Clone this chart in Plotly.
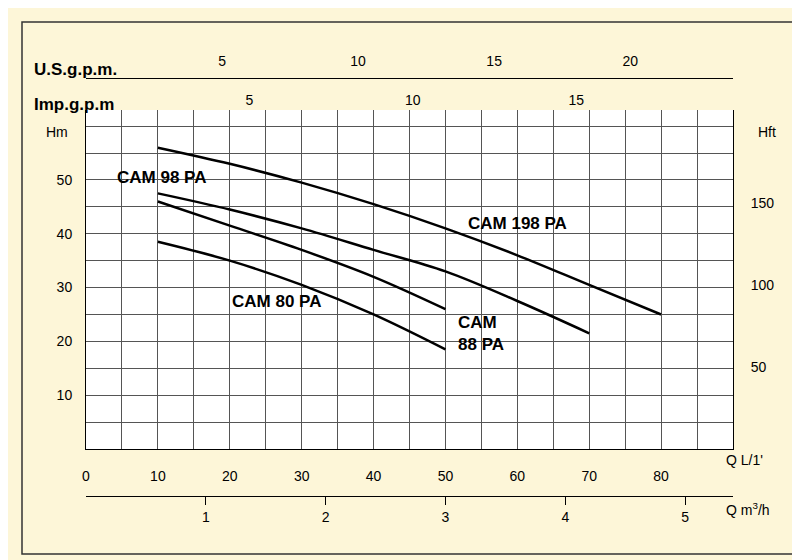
import plotly.graph_objects as go

q = [10, 20, 30, 40, 50, 60, 70, 80]
h198 = [56, 53, 49.5, 45.5, 41, 36, 30.5, 25]
q98 = [10, 20, 30, 40, 50, 60, 70]
h98 = [47.5, 44.5, 41, 37, 33, 27.5, 21.5]
q88 = [10, 20, 30, 40, 50]
h88 = [46, 41.5, 37, 32, 26]
q80 = [10, 20, 30, 40, 50]
h80 = [38.5, 35, 30.5, 25, 18.5]
labels = [("CAM 98 PA", 10.5, 50.5), ("CAM 198 PA", 60, 42), ("CAM 80 PA", 26.5, 27.5), ("CAM<br>88 PA", 55, 21.5)]

XMAX, YMAX = 90, 63
F = "Liberation Sans"
fig = go.Figure()
for x, y in [(q, h198), (q98, h98), (q88, h88), (q80, h80)]:
    fig.add_trace(go.Scatter(x=x, y=y, mode="lines", line=dict(color="black", width=2.5, shape="spline"), showlegend=False))
for t, x, y in labels:
    fig.add_annotation(x=x, y=y, text="<b>"+t+"</b>", showarrow=False, font=dict(family=F, size=17, color="black"), align="left")

dom = [58/760, 705/760]
ydom = [99/520, 438/520]
tf = dict(family=F, size=14, color="black")
fig.update_layout(
    width=800, height=560, margin=dict(l=20, r=20, t=20, b=20, autoexpand=False),
    paper_bgcolor="#fdf6d8", plot_bgcolor="white",
    xaxis=dict(domain=dom, range=[0, XMAX], tickvals=list(range(0, 90, 10)), showgrid=True, gridcolor="#555", gridwidth=1,
               minor=dict(dtick=5, showgrid=True, gridcolor="#555"), showline=True, linecolor="black", ticks="",
               ticklabelstandoff=14, tickfont=tf, zeroline=False, automargin=False),
    yaxis=dict(domain=ydom, range=[0, YMAX], tickvals=list(range(10, 60, 10)), showgrid=True, gridcolor="#555",
               minor=dict(dtick=5, showgrid=True, gridcolor="#555"), showline=True, linecolor="black", ticks="",
               ticklabelstandoff=10, tickfont=tf, zeroline=False, automargin=False),
    yaxis2=dict(overlaying="y", side="right", range=[0, YMAX*3.281], tickvals=[50, 100, 150], showgrid=False,
                ticks="", ticklabelstandoff=14, tickfont=tf, showline=True, linecolor="black", zeroline=False, automargin=False),
    xaxis2=dict(overlaying="x", anchor="free", position=52/520, side="bottom", range=[0, XMAX/16.667],
                tickvals=[1, 2, 3, 4, 5], ticks="outside", ticklen=8, tickcolor="black", showgrid=False,
                showline=True, linecolor="black", tickfont=tf, zeroline=False, automargin=False),
    xaxis3=dict(overlaying="x", anchor="free", position=ydom[1], side="top", range=[0, XMAX/4.546],
                tickvals=[5, 10, 15], ticks="", showgrid=False, tickfont=tf, zeroline=False, ticklabelstandoff=2, automargin=False),
    xaxis4=dict(overlaying="x", anchor="free", position=470/520, side="top", range=[0, XMAX/3.785],
                tickvals=[5, 10, 15, 20], ticks="", showgrid=False, showline=True, linecolor="black",
                tickfont=tf, zeroline=False, ticklabelstandoff=6, automargin=False),
)
fig.add_trace(go.Scatter(x=[0], y=[0], yaxis="y2", mode="markers", marker=dict(opacity=0), showlegend=False, hoverinfo="skip"))
for ax in ["x2", "x3", "x4"]:
    fig.add_trace(go.Scatter(x=[0], y=[0], xaxis=ax, mode="markers", marker=dict(opacity=0), showlegend=False, hoverinfo="skip"))

def ann(t, x, y, anchor="left", size=16):
    fig.add_annotation(xref="paper", yref="paper", x=(x-20)/760, y=(540-y)/520, text=t, showarrow=False,
                       xanchor=anchor, font=dict(family=F, size=size, color="black"))
ann("<b>U.S.g.p.m.</b>", 24, 50, size=17)
ann("<b>Imp.g.p.m</b>", 24, 85, size=17)
ann("Hm", 36, 114, size=14)
ann("Hft", 748, 114, size=14)
ann("Q L/1'", 716, 462, size=14)
ann("Q m<sup>3</sup>/h", 716, 512, size=14)
fig.add_shape(type="rect", xref="paper", yref="paper", x0=-6/760, x1=766/760, y0=-6/520, y1=526/520,
              line=dict(color="#333", width=1.5))
fig.write_html("out.html")
